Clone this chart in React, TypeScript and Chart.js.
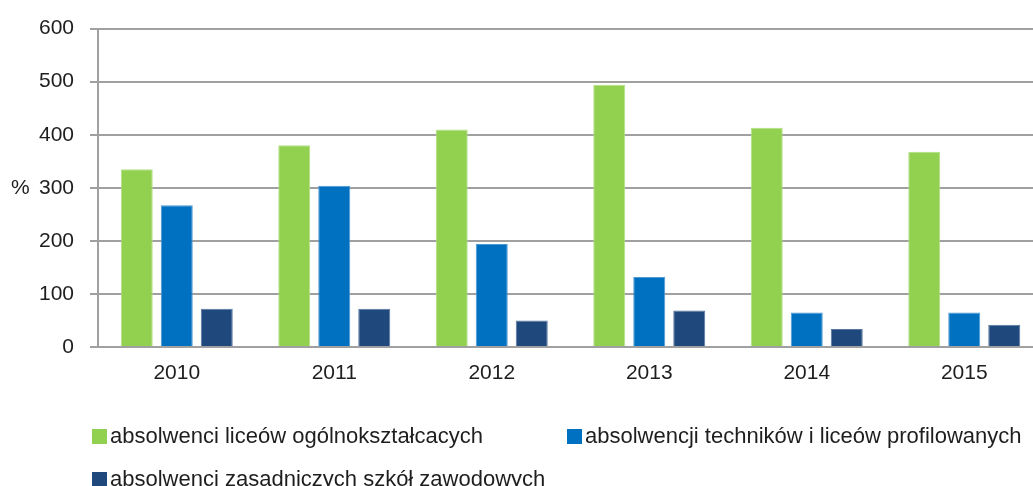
import React, { useEffect, useRef } from "react";
import { Chart, registerables } from "chart.js";

Chart.register(...registerables);

const categories = ["2010", "2011", "2012", "2013", "2014", "2015"];
const liceaOgolne = [335, 380, 410, 494, 413, 368];
const technika = [267, 304, 194, 132, 65, 65];
const zasadnicze = [72, 72, 50, 69, 34, 42];
const seriesLabels = [
  "absolwenci liceów ogólnokształcacych",
  "absolwencji techników i liceów profilowanych",
  "absolwenci zasadniczych szkół zawodowych",
];
const yTicks = [0, 100, 200, 300, 400, 500, 600];
const yUnit = "%";

const colors = ["#92D050", "#0070C0", "#1F497D"];
const borders = ["#b3df86", "#4a98d4", "#5877a0"];
const FONT = "'Liberation Sans', Arial, sans-serif";
const TEXT = "#1e1e1e";
const GRID = "#a0a0a0";

const legendPos = [
  { left: 92, top: 424 },
  { left: 567, top: 424 },
  { left: 92, top: 467 },
];

export default function App() {
  const ref = useRef<HTMLCanvasElement | null>(null);

  useEffect(() => {
    if (!ref.current) return;
    const unitPlugin = {
      id: "unitLabel",
      afterDraw(chart: any) {
        const y = chart.scales.y;
        const ctx = chart.ctx;
        ctx.save();
        ctx.font = `21px ${FONT}`;
        ctx.fillStyle = TEXT;
        ctx.textAlign = "left";
        ctx.textBaseline = "middle";
        ctx.fillText(yUnit, 11, y.getPixelForValue(300));
        ctx.restore();
      },
    };
    const chart = new Chart(ref.current, {
      type: "bar",
      data: {
        labels: categories,
        datasets: [liceaOgolne, technika, zasadnicze].map((d, i) => ({
          label: seriesLabels[i],
          data: d,
          backgroundColor: colors[i],
          borderColor: borders[i],
          borderWidth: 1,
          categoryPercentage: 0.762,
          barPercentage: 0.8,
        })),
      },
      options: {
        responsive: false,
        animation: false,
        layout: { padding: { top: 26, right: 17, bottom: 89, left: 0 } },
        plugins: { legend: { display: false }, tooltip: { enabled: false } },
        scales: {
          x: {
            grid: { display: false, drawTicks: false },
            border: { display: true, color: GRID, width: 2 },
            ticks: { color: TEXT, font: { family: FONT, size: 21 }, padding: 14 },
            afterFit: (s: any) => {
              s.height = 50;
            },
          },
          y: {
            min: 0,
            max: 600,
            afterBuildTicks: (s: any) => {
              s.ticks = yTicks.map((v) => ({ value: v }));
            },
            grid: { color: GRID, lineWidth: 2, drawTicks: true, tickLength: 8 },
            border: { display: true, color: GRID, width: 2 },
            ticks: { color: TEXT, font: { family: FONT, size: 21 }, padding: 16 },
            afterFit: (s: any) => {
              s.width = 98;
            },
          },
        },
      },
      plugins: [unitPlugin],
    });
    return () => chart.destroy();
  }, []);

  return (
    <div
      style={{
        position: "fixed",
        left: 0,
        top: 0,
        width: 1033,
        height: 486,
        overflow: "hidden",
        background: "#fff",
      }}
    >
      <canvas ref={ref} width={1060} height={486} style={{ display: "block", width: 1060, height: 486 }} />
      {seriesLabels.map((lab, i) => (
        <div
          key={lab}
          style={{
            position: "absolute",
            left: legendPos[i].left,
            top: legendPos[i].top,
            height: 24,
            display: "flex",
            alignItems: "center",
            whiteSpace: "nowrap",
            font: `22px ${FONT}`,
            lineHeight: "24px",
            color: TEXT,
          }}
        >
          <span style={{ display: "inline-block", width: 15, height: 15, background: colors[i], marginRight: 3 }} />
          <span>{lab}</span>
        </div>
      ))}
    </div>
  );
}
